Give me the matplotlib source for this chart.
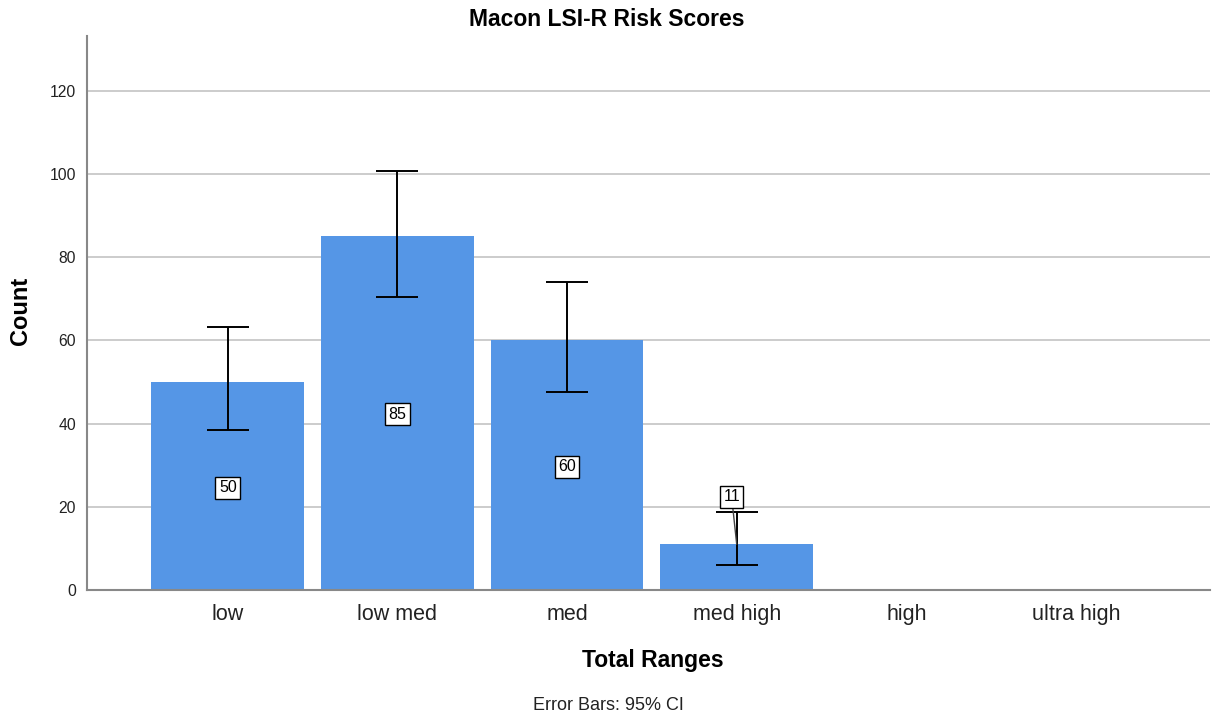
import matplotlib.pyplot as plt
import numpy as np

plt.rcParams["font.family"] = ["Liberation Sans", "DejaVu Sans"]

categories = ["low", "low med", "med", "med high", "high", "ultra high"]
counts = [50, 85, 60, 11, 0, 0]
ci_low = [38.5, 70.5, 47.5, 6.0, None, None]
ci_high = [63.3, 100.8, 74.1, 18.8, None, None]
label_y = [24.6, 42.3, 29.6, 22.4]

bar_color = "#5596e6"
W, H = 1212, 717

fig = plt.figure(figsize=(W / 100, H / 100), dpi=100)
ax = fig.add_axes([87 / W, 1 - 590 / H, (1210 - 87) / W, (590 - 36) / H])

x = np.arange(len(categories))
ax.bar(x, counts, width=0.9, color=bar_color, zorder=2)

# error bars only where data exists
for i, (lo, hi) in enumerate(zip(ci_low, ci_high)):
    if lo is None:
        continue
    ax.errorbar(i, counts[i], yerr=[[counts[i] - lo], [hi - counts[i]]],
                fmt="none", ecolor="black", elinewidth=1.4, capsize=15,
                capthick=1.4, zorder=3)

# count labels in boxes
box = dict(boxstyle="square,pad=0.22", fc="white", ec="black", lw=1)
for i, y in enumerate(label_y):
    if y > counts[i]:
        ax.annotate(str(counts[i]), xy=(i, counts[i]), xytext=(i - 0.03, y),
                    ha="center", va="center", fontsize=11.5, zorder=5, bbox=box,
                    arrowprops=dict(arrowstyle="-", color="#444444", lw=1,
                                    shrinkA=0, shrinkB=0))
    else:
        ax.text(i, y, str(counts[i]), ha="center", va="center", fontsize=11.5,
                zorder=5, bbox=box)

ax.set_xlim(-0.83, 5.79)
ax.set_ylim(0, 133.2)
ax.set_yticks([0, 20, 40, 60, 80, 100, 120])
ax.set_xticks(x)
ax.set_xticklabels(categories, fontsize=15.5, color="#222222")
ax.tick_params(axis="x", length=0, pad=10)
ax.tick_params(axis="y", length=0, labelsize=11.3, pad=8, colors="#222222")
ax.yaxis.grid(True, color="#c8c8c8", lw=1.3, zorder=0)
ax.set_axisbelow(True)

for s in ["top", "right"]:
    ax.spines[s].set_visible(False)
for s in ["left", "bottom"]:
    ax.spines[s].set_color("#888888")
    ax.spines[s].set_linewidth(1.5)

fig.text(607 / W, 1 - 19 / H, "Macon LSI-R Risk Scores", ha="center", va="center",
         fontsize=16.5, fontweight="bold")
fig.text(21 / W, 1 - 311 / H, "Count", ha="center", va="center", rotation=90,
         fontsize=17, fontweight="bold")
fig.text(653 / W, 1 - 660 / H, "Total Ranges", ha="center", va="center",
         fontsize=16.5, fontweight="bold")
fig.text(608 / W, 1 - 706 / H, "Error Bars: 95% CI", ha="center", va="center",
         fontsize=13, color="#222222")

plt.savefig("out.png", dpi=100)
